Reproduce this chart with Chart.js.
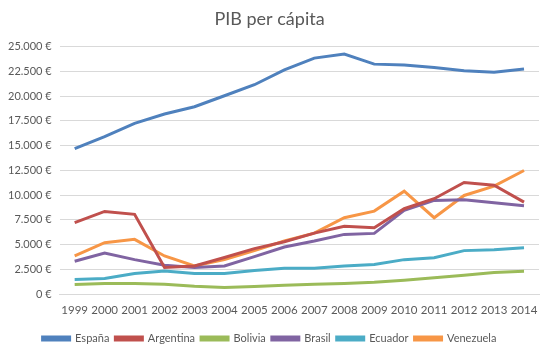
<!DOCTYPE html>
<html><head><meta charset="utf-8">
<script src="https://cdn.jsdelivr.net/npm/chart.js@4"></script>
<style>html,body{margin:0;padding:0;background:#fff}#w{width:551px;height:355px}</style>
</head><body><div id="w"><canvas id="c"></canvas></div>
<script>
const years = ["1999","2000","2001","2002","2003","2004","2005","2006","2007","2008","2009","2010","2011","2012","2013","2014"];
const espana =    [14700,15900,17250,18200,18930,20040,21150,22650,23840,24240,23230,23130,22900,22560,22420,22730];
const argentina = [7220,8360,8060,2690,2850,3700,4600,5300,6170,6850,6710,8630,9640,11280,11010,9300];
const bolivia =   [980,1080,1080,1000,800,670,780,900,1000,1070,1200,1400,1650,1910,2180,2310];
const brasil =    [3320,4160,3490,2920,2690,2850,3800,4770,5370,6040,6140,8460,9470,9540,9230,8930];
const ecuador =   [1480,1580,2080,2350,2080,2080,2400,2620,2620,2850,2990,3490,3690,4400,4500,4700];
const venezuela = [3860,5200,5540,3860,2850,3490,4400,5370,6170,7720,8390,10400,7720,9970,10910,12490];
const yTicks = [0,2500,5000,7500,10000,12500,15000,17500,20000,22500,25000];

function fmt(v){
  const s = String(Math.round(v));
  return s.replace(/\B(?=(\d{3})+(?!\d))/g, ".") + " €";
}
const FONT = "Lato, 'Liberation Sans', sans-serif";
const mk = (label, data, color) => ({label, data, borderColor: color, backgroundColor: color,
  borderWidth: 3, pointRadius: 0, tension: 0, fill: false});

new Chart(document.getElementById('c'), {
  type: 'line',
  data: {
    labels: years,
    datasets: [
      mk('España', espana, '#4F81BD'),
      mk('Argentina', argentina, '#C0504D'),
      mk('Bolivia', bolivia, '#9BBB59'),
      mk('Brasil', brasil, '#8064A2'),
      mk('Ecuador', ecuador, '#4BACC6'),
      mk('Venezuela', venezuela, '#F79646')
    ]
  },
  options: {
    responsive: true, maintainAspectRatio: false, animation: false,
    layout: {padding: {left: 0, right: 12, top: 6, bottom: 1}},
    plugins: {
      title: {display: true, text: 'PIB per cápita', color: '#595959',
        font: {family: FONT, size: 18, weight: 'normal'}, padding: {top: 2, bottom: 17}},
      legend: {position: 'bottom', labels: {boxWidth: 27, boxHeight: 3, color: '#595959',
        font: {family: FONT, size: 11}, padding: 6}},
      tooltip: {enabled: false}
    },
    scales: {
      x: {offset: true, grid: {display: false}, border: {color: '#d9d9d9'},
        afterFit: a => { a.height += 9; },
        ticks: {color: '#595959', font: {family: FONT, size: 11.5}, maxRotation: 0, autoSkip: false, padding: 1}},
      y: {min: 0, max: 25000, afterBuildTicks: a => { a.ticks = yTicks.map(v => ({value: v})); },
        grid: {color: '#d9d9d9', drawTicks: false}, border: {display: false},
        ticks: {color: '#595959', font: {family: FONT, size: 11}, padding: 8, callback: v => fmt(v)}}
    }
  }
});
</script></body></html>
